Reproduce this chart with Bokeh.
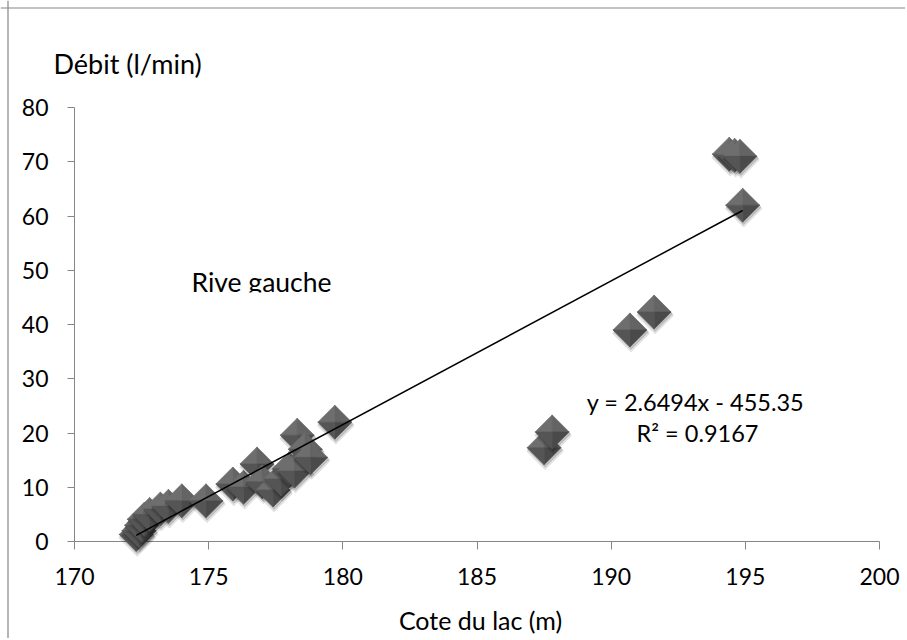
import numpy as np
from bokeh.plotting import figure
from bokeh.models import (Range1d, FixedTicker, ColumnDataSource, LinearAxis,
                          Span, BoxAnnotation)
from bokeh.core.properties import value
from bokeh.embed import file_html
from bokeh.resources import INLINE

# ---------------- data ----------------
cote = [172.3, 172.4, 172.5, 172.6, 172.8, 173.2, 173.5, 174.0, 174.9, 175.9,
        176.3, 176.8, 177.0, 177.4, 177.7, 178.0, 178.2, 178.3, 178.6, 178.8,
        179.7, 187.5, 187.8, 190.7, 191.6, 194.4, 194.6, 194.8, 194.9]
debit = [1.3, 2.0, 3.0, 4.1, 5.0, 6.0, 6.5, 7.5, 7.5, 10.6,
         10.0, 14.3, 11.0, 9.5, 11.5, 13.4, 13.0, 19.6, 17.0, 15.5,
         22.0, 17.3, 20.2, 39.0, 42.3, 71.4, 71.2, 71.0, 62.0]
x_ticks = [170, 175, 180, 185, 190, 195, 200]
y_ticks = [0, 10, 20, 30, 40, 50, 60, 70, 80]
slope = 2.6494
intercept = -455.35
eq_text = "y = 2.6494x - 455.35"
r2_text = "R² = 0.9167"
series_label = "Rive gauche"
x_title = "Cote du lac (m)"
y_title = "Débit (l/min)"

# ---------------- layout (pixels in the canvas) ----------------
W, H = 905, 638
AL, AR, AT, AB = 74, 879, 107, 541          # where the axes lie
X0, X1, Y0, Y1 = 170, 200, 0, 80
sx = (AR - AL) / (X1 - X0)
sy = (AB - AT) / (Y1 - Y0)
FONT = "Lato"
AX = "#868686"

def dx(px):
    return X0 + (px - AL) / sx

def dy(py):
    return Y0 + (AB - py) / sy

p = figure(width=W, height=H,
           x_range=Range1d(dx(0), dx(W)), y_range=Range1d(dy(H), dy(0)),
           x_axis_location=None, y_axis_location=None,
           output_backend="svg", toolbar_location=None,
           min_border=0, min_border_left=0, min_border_right=0,
           min_border_top=0, min_border_bottom=0,
           background_fill_color="white", border_fill_color="white",
           outline_line_color=None)
p.grid.visible = False

xaxis = LinearAxis(fixed_location=Y0, bounds=(X0, X1), ticker=FixedTicker(ticks=x_ticks))
yaxis = LinearAxis(fixed_location=X0, bounds=(Y0, Y1), ticker=FixedTicker(ticks=y_ticks))
for ax, tout, stand in ((xaxis, 8, 18), (yaxis, 7, 19)):
    ax.axis_line_color = AX
    ax.axis_line_width = 1
    ax.major_tick_line_color = AX
    ax.major_tick_out = tout
    ax.major_tick_in = 0
    ax.minor_tick_line_color = None
    ax.major_label_text_font = FONT
    ax.major_label_text_font_size = "23px"
    ax.major_label_text_color = "black"
    ax.major_label_standoff = stand
p.add_layout(xaxis, "below")
p.add_layout(yaxis, "left")

# chart border (top and left edges visible in the reference)
p.add_layout(Span(location=dx(7.5), dimension="height", line_color=AX, line_width=1.2))
p.add_layout(Span(location=dy(7.5), dimension="width", line_color=AX, line_width=1.2))

# ---------------- diamond markers (pyramid look) ----------------
half = 17
xs, ys, fills, alphas = [], [], [], []
for x, y in zip(cote, debit):
    for off, extra, a in ((3.5, 1.5, 0.10), (2.0, 0.5, 0.16)):
        ox, oy = 1 / sx, -off / sy
        rx, ry = (half + extra) / sx, (half + extra) / sy
        cx, cy = x + ox, y + oy
        xs.append([cx - rx, cx, cx + rx, cx]); ys.append([cy, cy + ry, cy, cy - ry])
        fills.append("#000000"); alphas.append(a)
    rx, ry = half / sx, half / sy
    L, T, R, B, C = (x - rx, y), (x, y + ry), (x + rx, y), (x, y - ry), (x, y)
    for pts, col in (((L, T, C), "#6e6e6e"), ((T, R, C), "#646464"),
                     ((R, B, C), "#4a4a4a"), ((B, L, C), "#555555")):
        xs.append([q[0] for q in pts]); ys.append([q[1] for q in pts])
        fills.append(col); alphas.append(1.0)

src = ColumnDataSource(dict(xs=xs, ys=ys, fill=fills, alpha=alphas))
p.patches("xs", "ys", source=src, fill_color="fill", fill_alpha="alpha",
          line_color="fill", line_alpha="alpha", line_width=0.6, level="annotation")

# ---------------- trend line ----------------
xl = np.array([min(cote), max(cote)])
p.line(xl, slope * xl + intercept, line_color="black", line_width=1.5, level="annotation")

# ---------------- texts ----------------
def lab(text, px, py, size, align="center"):
    p.text(x=[dx(px)], y=[dy(py)], text=[text], text_font=value(FONT),
           text_font_size=size, text_color="black",
           text_align=align, text_baseline="middle", level="annotation")

lab(y_title, 53, 63, "27px", "left")
lab(series_label, 191, 281, "26.5px", "left")
lab(eq_text, 695, 401, "23.5px")
lab(r2_text, 697, 432, "23.5px")
lab(x_title, 480, 619, "25px")
# the reference's text box cuts the descender of "Rive gauche"
p.add_layout(BoxAnnotation(left=dx(180), right=dx(345), top=dy(292), bottom=dy(302),
                           fill_color="white", fill_alpha=1.0, line_color=None))

open("out.html", "w").write(file_html(p, INLINE))
